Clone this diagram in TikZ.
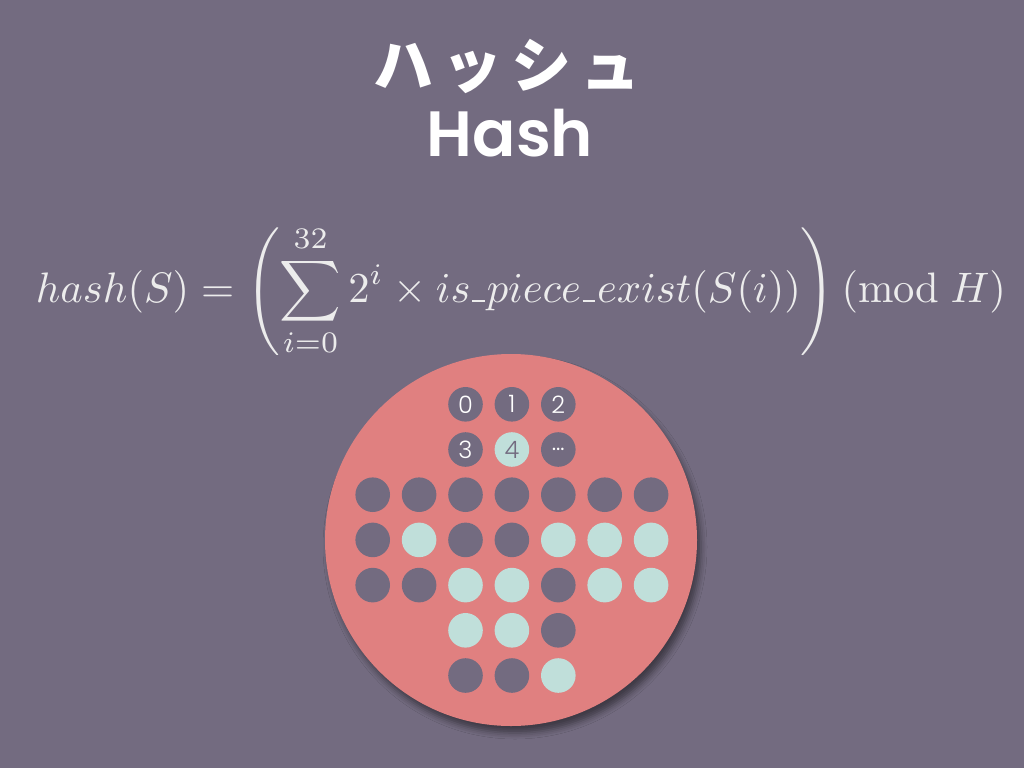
\documentclass[tikz,border=0pt]{standalone}
\usepackage{fontspec}
\usetikzlibrary{shadows.blur}
\newfontfamily\popfont{Poppins SemiBold}
\newfontfamily\dotfont{Poppins Light}
\newfontfamily\jpfont[LetterSpace=15]{Noto Sans CJK JP}
\newcommand\usc{\mbox{\kern.04em\rule{.3em}{.04em}\kern.04em}}
\definecolor{bg}{RGB}{115,107,128}
\definecolor{salmon}{RGB}{224,128,128}
\definecolor{mint}{RGB}{192,223,218}
\definecolor{formulac}{RGB}{236,236,236}
\tikzset{
  title/.style={text=white, inner sep=0pt},
  dotd/.style={circle, fill=bg, minimum size=34.6pt, inner sep=0pt, text=white, font=\dotfont\fontsize{24}{24}\selectfont},
  dotl/.style={circle, fill=mint, minimum size=34.6pt, inner sep=0pt, text=bg, font=\dotfont\fontsize{24}{24}\selectfont},
}
\begin{document}
\begin{tikzpicture}[x=1pt,y=-1pt]
\fill[bg] (0,0) rectangle (1024,768);
\useasboundingbox (0,0) rectangle (1024,768);
\node[title, font=\jpfont\bfseries\fontsize{60}{60}\selectfont] (jp) at (507,66) {ハッシュ};
\node[title, font=\popfont\fontsize{64}{64}\selectfont] (hash) at (510,133) {Hash};
\node[anchor=base, text=formulac, inner sep=0pt] (f) at (521,302)
  {\scalebox{4.26}{$\displaystyle hash(S) = \left(\sum_{i=0}^{32} 2^i \times is\usc piece\usc exist(S(i))\right)(\mathrm{mod}\;H)$}};
\node[circle, fill=salmon, minimum size=372pt, inner sep=0pt,
  blur shadow={shadow xshift=4pt, shadow yshift=-7pt, shadow blur radius=6pt, shadow opacity=45}] (board) at (511,540) {};
\foreach \r/\c/\s/\t in {0/2/dotd/0, 0/3/dotd/1, 0/4/dotd/2,
  1/2/dotd/3, 1/3/dotl/4, 1/4/dotd/…,
  2/0/dotd/, 2/1/dotd/, 2/2/dotd/, 2/3/dotd/, 2/4/dotd/, 2/5/dotd/, 2/6/dotd/,
  3/0/dotd/, 3/1/dotl/, 3/2/dotd/, 3/3/dotd/, 3/4/dotl/, 3/5/dotl/, 3/6/dotl/,
  4/0/dotd/, 4/1/dotd/, 4/2/dotl/, 4/3/dotl/, 4/4/dotd/, 4/5/dotl/, 4/6/dotl/,
  5/2/dotl/, 5/3/dotl/, 5/4/dotd/,
  6/2/dotd/, 6/3/dotd/, 6/4/dotl/}
  \node[\s] (p\r\c) at ({372.7+46.4*\c},{404.3+45.2*\r}) {\t};
\end{tikzpicture}
\end{document}
